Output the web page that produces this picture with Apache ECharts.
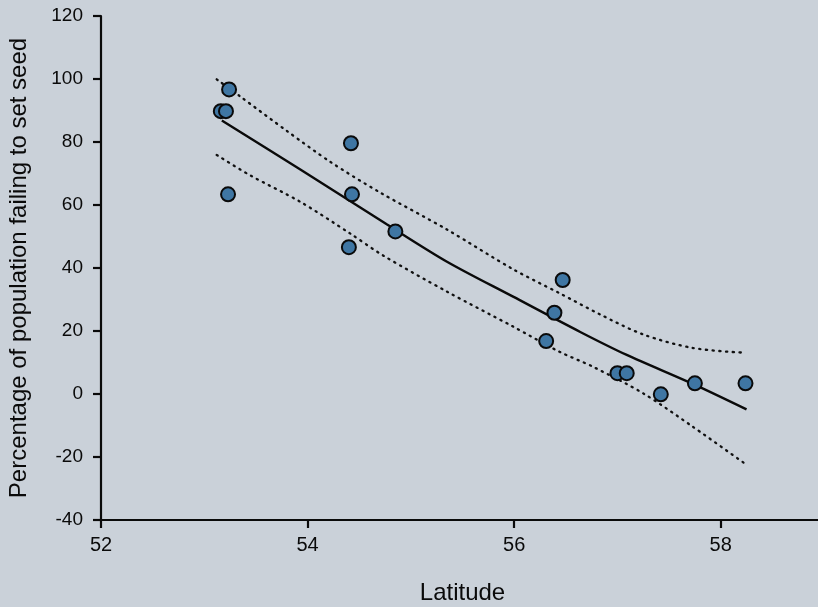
<!DOCTYPE html>
<html>
<head>
<meta charset="utf-8">
<script src="https://cdn.jsdelivr.net/npm/echarts@6/dist/echarts.min.js"></script>
<style>
    html, body { margin: 0; padding: 0; background: #cad1d9; }
    #chart { width: 818px; height: 607px; }
</style>
</head>
<body>
<div id="chart"></div>
<script>
// 观测点 (纬度, 未结籽百分比)
const latitudes = [53.24, 53.16, 53.21, 54.42, 53.23, 54.43, 54.85, 54.40, 56.47, 56.39, 56.31, 57.00, 57.09, 57.42, 57.75, 58.24];
const failPct   = [96.7, 89.8, 89.8, 79.6, 63.4, 63.4, 51.6, 46.6, 36.2, 25.8, 16.8, 6.6, 6.6, -0.1, 3.4, 3.4];

// 拟合曲线
const fitLat = [53.17, 53.93, 54.77, 55.35, 55.99, 56.64, 57.09, 57.73, 58.25];
const fitPct = [86.8, 71.3, 53.8, 42.0, 30.9, 19.7, 12.4, 3.2, -4.9];

// 置信区间 上/下
const upperLat = [53.12, 53.35, 53.80, 54.22, 54.70, 55.35, 55.99, 56.44, 56.83, 57.25, 57.73, 58.23];
const upperPct = [99.9, 94.4, 83.5, 73.7, 64.0, 52.2, 39.6, 32.0, 25.3, 18.9, 14.6, 13.1];
const lowerLat = [53.12, 53.44, 53.93, 54.41, 54.73, 55.35, 55.99, 56.44, 56.76, 57.25, 57.73, 58.23];
const lowerPct = [75.9, 69.5, 61.0, 51.0, 44.0, 32.5, 21.4, 13.4, 8.7, 0.2, -10.4, -22.0];

function pairs(xs, ys) {
    return xs.map((x, i) => [x, ys[i]]);
}

const chart = echarts.init(document.getElementById('chart'));
const font = 'Liberation Sans, Arial, sans-serif';

chart.setOption({
    animation: false,
    backgroundColor: '#cad1d9',
    grid: { left: 101, right: -6, top: 16, bottom: 87, outerBoundsMode: 'none' },
    xAxis: {
        type: 'value',
        min: 52,
        max: 59,
        interval: 2,
        name: 'Latitude',
        nameLocation: 'middle',
        nameGap: 61,
        nameTextStyle: { fontSize: 24, color: '#0a0a0a', fontFamily: font },
        splitLine: { show: false },
        axisLine: { onZero: false, lineStyle: { color: '#0a0a0a', width: 2.2 } },
        axisTick: { length: 8, lineStyle: { color: '#0a0a0a', width: 2.2 } },
        axisLabel: { fontSize: 20, color: '#0a0a0a', fontFamily: font, margin: 15, showMaxLabel: false }
    },
    yAxis: {
        type: 'value',
        min: -40,
        max: 120,
        interval: 20,
        name: 'Percentage of population failing to set seed',
        nameLocation: 'middle',
        nameGap: 70,
        nameTextStyle: { fontSize: 24, color: '#0a0a0a', fontFamily: font },
        splitLine: { show: false },
        axisLine: { show: true, lineStyle: { color: '#0a0a0a', width: 2.2 } },
        axisTick: { show: true, length: 8, lineStyle: { color: '#0a0a0a', width: 2.2 } },
        axisLabel: { fontSize: 19, color: '#0a0a0a', fontFamily: font, margin: 18 }
    },
    series: [
        {
            type: 'line',
            data: pairs(upperLat, upperPct),
            smooth: 0.3,
            symbol: 'none',
            z: 2,
            lineStyle: { color: '#111', width: 2.3, type: [1.2, 5.5], cap: 'round' }
        },
        {
            type: 'line',
            data: pairs(lowerLat, lowerPct),
            smooth: 0.3,
            symbol: 'none',
            z: 2,
            lineStyle: { color: '#111', width: 2.3, type: [1.2, 5.5], cap: 'round' }
        },
        {
            type: 'line',
            data: pairs(fitLat, fitPct),
            smooth: 0.3,
            symbol: 'none',
            z: 2,
            lineStyle: { color: '#0a0a0a', width: 2.4 }
        },
        {
            type: 'scatter',
            data: pairs(latitudes, failPct),
            symbolSize: 14,
            z: 3,
            itemStyle: { color: '#3f76a3', borderColor: '#0a0a0a', borderWidth: 2, opacity: 1 }
        }
    ]
});
</script>
</body>
</html>
